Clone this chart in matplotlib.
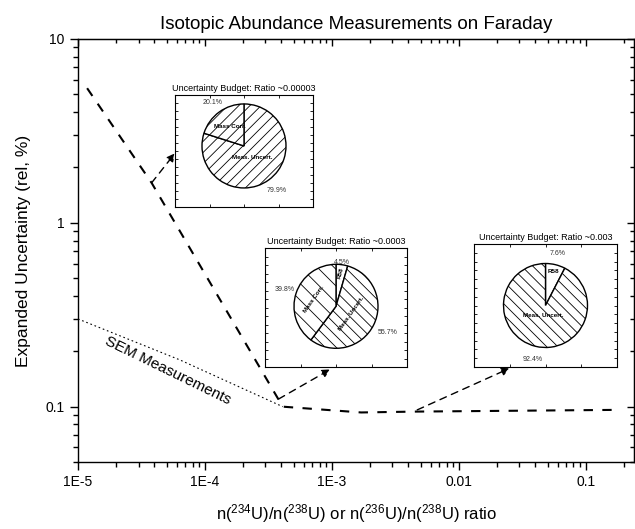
import numpy as np
import matplotlib
matplotlib.use("Agg")
import matplotlib.pyplot as plt
from matplotlib.ticker import FixedLocator, FixedFormatter, LogLocator, NullFormatter

plt.rcParams['font.family'] = ['Liberation Sans', 'DejaVu Sans']
plt.rcParams['mathtext.default'] = 'regular'
plt.rcParams['hatch.linewidth'] = 0.6

# Faraday expanded uncertainty vs ratio
far_ratio = [1.18e-5, 3.8e-5, 4.1e-4, 1.7e-3, 4.5e-3, 0.16]
far_unc = [5.4, 1.65, 0.100, 0.093, 0.094, 0.096]

# SEM measurements
sem_ratio = [1e-5, 6.3e-5, 4.1e-4]
sem_unc = [0.30, 0.18, 0.10]

xtick_vals = [1e-5, 1e-4, 1e-3, 1e-2, 1e-1]
xtick_labels = ['1E-5', '1E-4', '1E-3', '0.01', '0.1']
ytick_vals = [0.1, 1, 10]
ytick_labels = ['0.1', '1', '10']

# uncertainty budgets (clockwise from 12 o'clock)
pie_titles = ['Uncertainty Budget: Ratio ~0.00003',
              'Uncertainty Budget: Ratio ~0.0003',
              'Uncertainty Budget: Ratio ~0.003']
pie_vals = [[79.9, 20.1], [4.5, 55.7, 39.8], [7.6, 92.4]]
pie_names = [['Meas. Uncert.', 'Mass Corr.'],
             ['R58', 'Meas. Uncert.', 'Mass Corr.'],
             ['R58', 'Meas. Uncert.']]
pie_hatch = [['///', '///'], ['', '\\\\\\', '\\\\'], ['', '\\\\\\']]

# layout for insets: (left, top, right, bottom) in pixels, pie centre fraction
W, H = 635, 529
inset_box = [(175, 95, 313, 207), (265, 248, 407, 367), (474, 244, 617, 367)]
pie_cy = [0.545, 0.51, 0.5]
name_dist = [[0.35, 0.56], [0.79, 0.40, 0.55], [0.83, 0.24]]
name_rot = [[0, 0], [75, 55, 55], [0, 0]]
pct_dist = [[1.30, 1.27], [1.05, 1.38, 1.29], [1.27, 1.32]]
# arrow start on the Faraday curve (data) and end on inset frame (axes fraction)
arrow_from = [(3.8e-5, 1.65), (3.8e-4, 0.11), (4.7e-3, 0.096)]
arrow_to = [(0.0, 0.48), (0.46, -0.02), (0.25, -0.01)]

fig = plt.figure(figsize=(W / 100, H / 100), dpi=100)
ax = fig.add_axes([78 / W, (H - 462) / H, (634 - 78) / W, (462 - 39) / H])

ax.plot(far_ratio, far_unc, color='black', lw=1.5, linestyle=(0, (4.5, 4.5)))
ax.plot(sem_ratio, sem_unc, color='black', lw=0.8, linestyle=(0, (1.5, 2.5)))

ax.set_xscale('log')
ax.set_yscale('log')
ax.set_xlim(1e-5, 0.24)
ax.set_ylim(0.05, 10)
ax.xaxis.set_major_locator(FixedLocator(xtick_vals))
ax.xaxis.set_major_formatter(FixedFormatter(xtick_labels))
ax.yaxis.set_major_locator(FixedLocator(ytick_vals))
ax.yaxis.set_major_formatter(FixedFormatter(ytick_labels))
ax.xaxis.set_minor_locator(LogLocator(base=10, subs=np.arange(2, 10)))
ax.yaxis.set_minor_locator(LogLocator(base=10, subs=np.arange(2, 10)))
ax.xaxis.set_minor_formatter(NullFormatter())
ax.yaxis.set_minor_formatter(NullFormatter())
ax.tick_params(which='major', direction='out', length=6, width=1, labelsize=10)
ax.tick_params(which='minor', direction='out', length=3.5, width=1)
for s in ax.spines.values():
    s.set_linewidth(1)

# inward ticks on top and right
top = ax.secondary_xaxis('top')
top.xaxis.set_major_locator(FixedLocator(xtick_vals))
top.xaxis.set_minor_locator(LogLocator(base=10, subs=np.arange(2, 10)))
top.xaxis.set_major_formatter(NullFormatter())
top.xaxis.set_minor_formatter(NullFormatter())
right = ax.secondary_yaxis('right')
right.yaxis.set_major_locator(FixedLocator(ytick_vals))
right.yaxis.set_minor_locator(LogLocator(base=10, subs=np.arange(2, 10)))
right.yaxis.set_major_formatter(NullFormatter())
right.yaxis.set_minor_formatter(NullFormatter())
for sec in (top, right):
    sec.tick_params(which='major', direction='in', length=5, width=1)
    sec.tick_params(which='minor', direction='in', length=3, width=1)

ax.set_title('Isotopic Abundance Measurements on Faraday', fontsize=13.5, pad=7)
ax.set_ylabel('Expanded Uncertainty (rel, %)', fontsize=12.5)
ax.yaxis.set_label_coords(-0.085, 0.5)
ax.set_xlabel(r'n($^{234}$U)/n($^{238}$U) or n($^{236}$U)/n($^{238}$U) ratio', fontsize=12)
ax.xaxis.set_label_coords(0.5, -0.095)

ax.text(5.1e-5, 0.157, 'SEM Measurements', rotation=-26, fontsize=11,
        ha='center', va='center', rotation_mode='anchor')

# pie chart insets
insets = []
for i, (l, t, r, b) in enumerate(inset_box):
    w, h = r - l, b - t
    ia = fig.add_axes([l / W, (H - b) / H, w / W, h / H])
    wedges, _ = ia.pie(pie_vals[i], startangle=90, counterclock=False,
                       colors=['white'] * len(pie_vals[i]), radius=42,
                       center=(w / 2, h * pie_cy[i]), frame=True,
                       wedgeprops=dict(edgecolor='black', linewidth=1))
    for wd, hp in zip(wedges, pie_hatch[i]):
        wd.set_hatch(hp)
    for j, wd in enumerate(wedges):
        ang = np.deg2rad((wd.theta1 + wd.theta2) / 2)
        cx, cy = wd.center
        ia.text(cx + name_dist[i][j] * wd.r * np.cos(ang),
                cy + name_dist[i][j] * wd.r * np.sin(ang),
                pie_names[i][j], fontsize=4.5, fontweight='bold',
                rotation=name_rot[i][j], ha='center', va='center')
        ia.text(cx + pct_dist[i][j] * wd.r * np.cos(ang),
                cy + pct_dist[i][j] * wd.r * np.sin(ang),
                f'{pie_vals[i][j]}%', fontsize=5, color='#333333',
                ha='center', va='center')
    ia.set_aspect('auto')
    ia.set_xlim(0, w)
    ia.set_ylim(0, h)
    ia.set_xticks([w * 0.25, w * 0.5, w * 0.75])
    ia.set_yticks(np.linspace(0, h, 15)[1:-1])
    ia.tick_params(direction='in', length=2, width=0.6, top=True, right=True,
                   labelbottom=False, labelleft=False)
    for s in ia.spines.values():
        s.set_linewidth(0.8)
    ia.set_title(pie_titles[i], fontsize=6.5, pad=3)
    insets.append(ia)

for k, ia in enumerate(insets):
    ax.annotate('', xy=arrow_to[k], xycoords=ia.transAxes,
                xytext=arrow_from[k], textcoords='data',
                annotation_clip=False,
                arrowprops=dict(arrowstyle='-|>', color='black', lw=1,
                                linestyle=(0, (5, 4)), mutation_scale=12,
                                shrinkA=0, shrinkB=0))

fig.savefig('out.png', dpi=100)
